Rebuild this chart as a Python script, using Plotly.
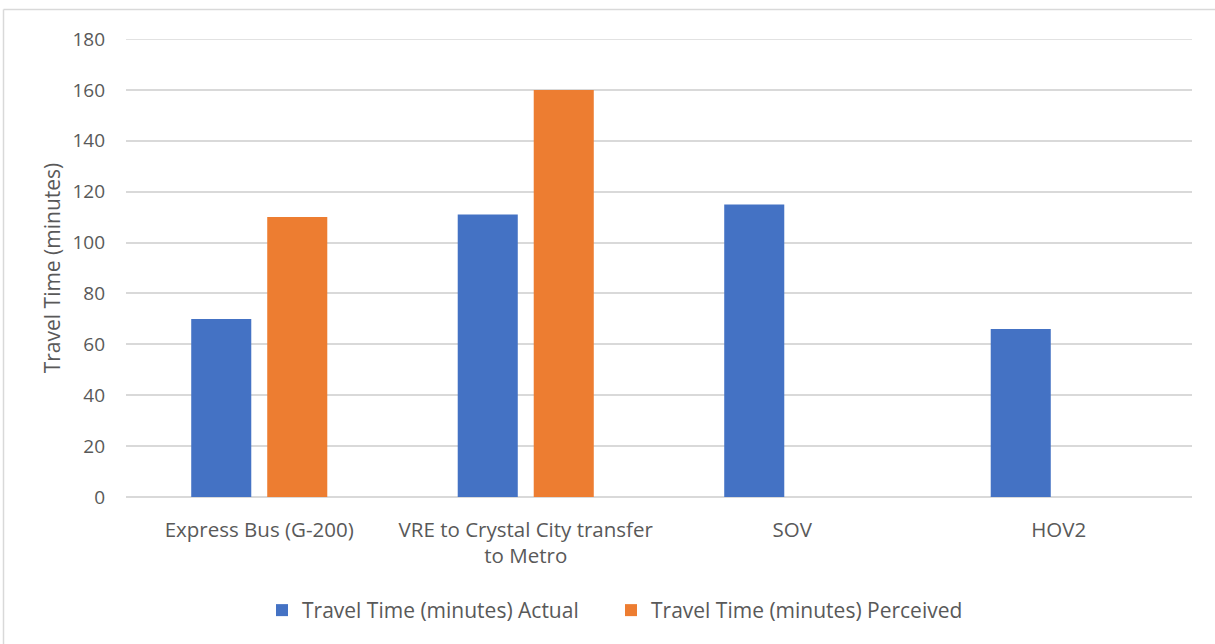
import plotly.graph_objects as go

categories = ["Express Bus (G-200)", "VRE to Crystal City transfer<br>to Metro", "SOV", "HOV2"]
actual = [70, 111, 115, 66]
perceived = [110, 160, None, None]
series_names = ["Travel Time (minutes) Actual", "Travel Time (minutes) Perceived"]
y_ticks = [0, 20, 40, 60, 80, 100, 120, 140, 160, 180]

FONT = "Open Sans"
TXT = "#595959"
GRID = "#D9D9D9"

fig = go.Figure()
fig.add_trace(go.Bar(x=categories, y=actual, name=series_names[0], legend="legend",
                     marker=dict(color="#4472C4", line=dict(width=0))))
fig.add_trace(go.Bar(x=categories, y=perceived, name=series_names[1], legend="legend2",
                     marker=dict(color="#ED7D31", line=dict(width=0))))

legend_common = dict(orientation="h", xanchor="left", y=-0.203, yanchor="top",
                     font=dict(family=FONT, size=21, color=TXT), bgcolor="rgba(0,0,0,0)")

fig.update_layout(
    width=1215, height=644,
    margin=dict(l=126, r=23, t=39, b=147, autoexpand=False),
    paper_bgcolor="white", plot_bgcolor="white",
    barmode="group", bargap=0.4296, bargroupgap=0.21,
    font=dict(family=FONT, size=20, color=TXT),
    showlegend=True,
    legend=dict(x=(276 - 126 - 14) / 1066, **legend_common),
    legend2=dict(x=(625 - 126 - 14) / 1066, **legend_common),
    xaxis=dict(showgrid=False, showline=False, ticks="", tickfont=dict(size=20.5, color=TXT),
               ticklabelstandoff=18),
    yaxis=dict(range=[0, 180], tickvals=y_ticks, showgrid=True, gridcolor=GRID, gridwidth=1.5,
               zeroline=True, zerolinecolor=GRID, zerolinewidth=1.5, showline=False,
               ticks="", ticklabelstandoff=20, tickfont=dict(size=19, color=TXT),
               title=dict(text="Travel Time (minutes)", font=dict(size=21, color=TXT), standoff=6)),
    shapes=[
        dict(type="line", xref="paper", yref="y", x0=0, x1=1, y0=y_ticks[-1], y1=y_ticks[-1],
             line=dict(color=GRID, width=1.5), layer="below"),
        dict(type="line", xref="paper", yref="paper", x0=(3.5-126)/1066, x1=(1215-126)/1066,
             y0=(644-147-9.5)/458, y1=(644-147-9.5)/458, line=dict(color=GRID, width=1.5)),
        dict(type="line", xref="paper", yref="paper", x0=(3.5-126)/1066, x1=(3.5-126)/1066,
             y0=(644-147-9.5)/458, y1=(644-147-650)/458, line=dict(color=GRID, width=1.5)),
    ],
)

fig.write_html("out.html", config={"displayModeBar": False},
               post_script="document.body.style.margin='0';document.body.style.overflow='hidden';")
